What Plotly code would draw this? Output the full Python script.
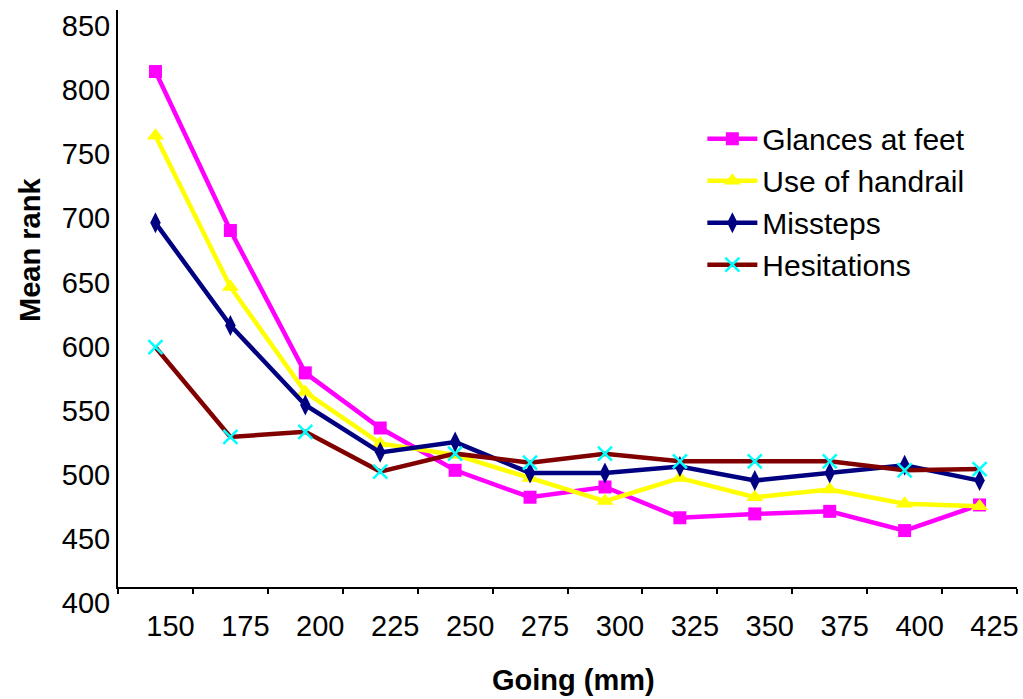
import plotly.graph_objects as go

going = ["150", "175", "200", "225", "250", "275", "300", "325", "350", "375", "400", "425"]
glances = [802, 678, 567, 524, 491, 470, 478, 454, 457, 459, 444, 464]
handrail = [752, 634, 552, 512, 503, 485, 467, 485, 470, 476, 465, 463]
missteps = [684, 604, 542, 505, 513, 489, 489, 494, 483, 489, 495, 483]
hesitations = [587, 517, 521, 490, 504, 497, 504, 498, 498, 498, 491, 492]
y_ticks = [400, 450, 500, 550, 600, 650, 700, 750, 800, 850]

FONT = "Liberation Sans, Arial, sans-serif"

fig = go.Figure()
fig.add_trace(go.Scatter(x=going, y=glances, name="Glances at feet", mode="lines+markers",
                         line=dict(color="#FF00FF", width=4.5),
                         marker=dict(symbol="square", size=13, color="#FF00FF")))
fig.add_trace(go.Scatter(x=going, y=handrail, name="Use of handrail", mode="lines+markers",
                         line=dict(color="#FFFF00", width=4.5),
                         marker=dict(symbol="triangle-up", size=15, color="#FFFF00")))
fig.add_trace(go.Scatter(x=going, y=missteps, name="Missteps", mode="lines+markers",
                         line=dict(color="#000080", width=4.5),
                         marker=dict(symbol="diamond-tall", size=15, color="#000080")))
fig.add_trace(go.Scatter(x=going, y=hesitations, name="Hesitations", mode="lines+markers",
                         line=dict(color="#800000", width=4.5),
                         marker=dict(symbol="x-thin", size=14, color="#00FFFF",
                                     line=dict(color="#00FFFF", width=2.5))))

fig.update_layout(
    width=1023, height=699,
    margin=dict(l=118, r=6, t=10, b=112, autoexpand=False),
    paper_bgcolor="white", plot_bgcolor="white",
    font=dict(family=FONT, color="black"),
    showlegend=True,
    legend=dict(x=0.65, y=0.822, xanchor="left", yanchor="top",
                bgcolor="rgba(0,0,0,0)", font=dict(size=30, family=FONT),
                itemwidth=50, tracegroupgap=0),
    xaxis=dict(type="category", range=[-0.5, 11.5], showline=True, linecolor="black", linewidth=2,
               ticks="outside", tickson="boundaries", ticklen=5, tickwidth=2, tickcolor="black",
               tickfont=dict(size=29, family=FONT), ticklabelshift=15, ticklabelstandoff=12,
               showgrid=False, zeroline=False, automargin=False),
    yaxis=dict(range=[400, 850], showline=True, linecolor="black", linewidth=2,
               ticks="", tickvals=y_ticks, tickfont=dict(size=29, family=FONT),
               ticklabelshift=16, ticklabelstandoff=0,
               showgrid=False, zeroline=False, automargin=False),
    annotations=[
        dict(text="<b>Mean rank</b>", xref="paper", yref="paper", x=-0.098, y=0.584,
             textangle=-90, showarrow=False, font=dict(size=29, family=FONT),
             xanchor="center", yanchor="middle"),
        dict(text="<b>Going (mm)</b>", xref="paper", yref="paper", x=0.507, y=-0.161,
             showarrow=False, font=dict(size=29, family=FONT),
             xanchor="center", yanchor="middle"),
    ],
)

fig.write_html("out.html", config={"displayModeBar": False},
               post_script="document.body.style.margin='0';document.body.style.overflow='hidden';")
